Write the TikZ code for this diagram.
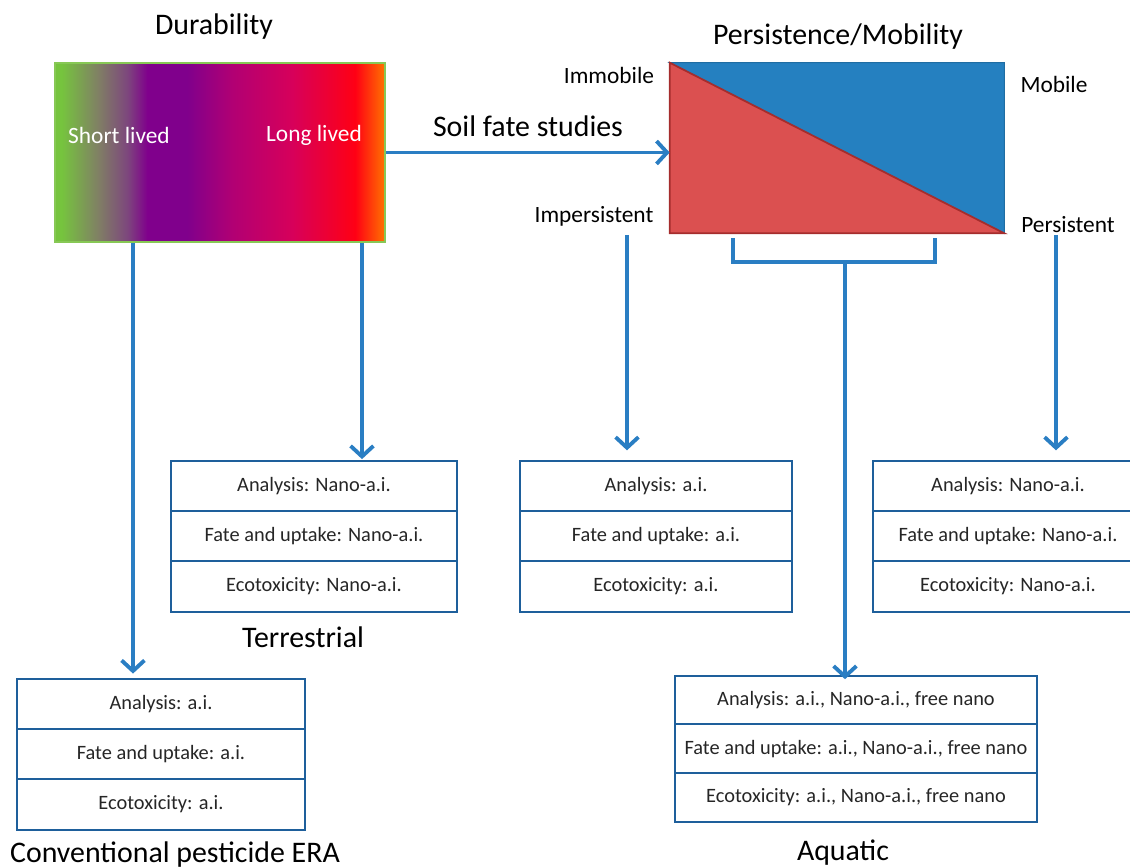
\documentclass[tikz,border=0pt]{standalone}
\usepackage{fontspec}
\setmainfont{Carlito}
\usetikzlibrary{positioning, arrows.meta}
\definecolor{flecheBleu}{RGB}{42,126,195}
\definecolor{cadreBleu}{RGB}{30,95,155}
\definecolor{triBleu}{RGB}{37,128,192}
\definecolor{triRouge}{RGB}{219,80,80}
\definecolor{bordRouge}{RGB}{165,45,45}
\definecolor{bordVert}{RGB}{135,200,85}
% Couleurs du degrade
\definecolor{gA}{RGB}{118,196,62}
\definecolor{gB}{RGB}{128,128,100}
\definecolor{gC}{RGB}{125,70,125}
\definecolor{gD}{RGB}{128,0,140}
\definecolor{gE}{RGB}{178,0,115}
\definecolor{gF}{RGB}{215,0,90}
\definecolor{gH}{RGB}{255,0,20}
\definecolor{gI}{RGB}{255,115,0}
\pgfdeclarehorizontalshading{duree}{100bp}{color(0bp)=(gA); color(26bp)=(gA); color(31.5bp)=(gB); color(36bp)=(gC); color(39bp)=(gD); color(45bp)=(gD); color(52bp)=(gE); color(61bp)=(gF); color(70.5bp)=(gH); color(75bp)=(gI); color(100bp)=(gI)}

\begin{document}
\begin{tikzpicture}[x=0.02cm, y=-0.02cm,
    grand/.style={font=\fontsize{17}{20}\selectfont},
    moyen/.style={font=\fontsize{13.3}{16}\selectfont},
    cellule/.style={draw=cadreBleu, line width=1.2pt, fill=white, outer sep=0pt, inner sep=0pt,
        minimum height=1.006cm, font=\fontsize{11.6}{14}\selectfont, text=black!85},
    fleche/.style={draw=flecheBleu, line width=2.2pt, -{Straight Barb[length=6pt,width=13pt]}},
    trait/.style={draw=flecheBleu, line width=2.2pt}]
    \useasboundingbox (0,0) rectangle (1130,868);

    % Duree de vie
    \node[grand] (tDur) at (214,27) {Durability};
    \node[shade, shading=duree, draw=bordVert, line width=1pt, inner sep=0pt,
        minimum width=6.6cm, minimum height=3.58cm] (dur) at (220,152.5) {};
    \node[moyen, text=white] (court) at (119,135) {Short lived};
    \node[moyen, text=white] (long) at (314,135) {Long lived};

    % Persistance / mobilite
    \node[grand] (tPM) at (838,37) {Persistence/Mobility};
    \node[inner sep=0pt, minimum width=6.68cm, minimum height=3.4cm] (pm) at (837,148) {};
    \filldraw[fill=triBleu, draw=triBleu!85!black, line width=0.6pt]
        (pm.north west) -- (pm.north east) -- (pm.south east) -- cycle;
    \filldraw[fill=triRouge, draw=bordRouge, line width=1pt]
        (pm.north west) -- (pm.south west) -- (pm.south east) -- cycle;
    \node[moyen] (immo) at (609,75) {Immobile};
    \node[moyen] (mobi) at (1054,84) {Mobile};
    \node[moyen] (imper) at (594,216) {Impersistent};
    \node[moyen] (pers) at (1068,225) {Persistent};

    % Etudes du sol
    \node[grand] (sol) at (528,126) {Soil fate studies};
    \draw[fleche] (dur.east) -- (dur.east -| pm.west);

    % Tableaux
    \node[cellule, minimum width=5.72cm] (terA) at (314,486) {Analysis: Nano-a.i.};
    \node[cellule, minimum width=5.72cm, below=0pt of terA] (terF) {Fate and uptake: Nano-a.i.};
    \node[cellule, minimum width=5.72cm, below=0pt of terF] (terE) {Ecotoxicity: Nano-a.i.};
    \node[grand] (tTer) at (303,637) {Terrestrial};

    \node[cellule, minimum width=5.44cm] (impA) at (656,486) {Analysis: a.i.};
    \node[cellule, minimum width=5.44cm, below=0pt of impA] (impF) {Fate and uptake: a.i.};
    \node[cellule, minimum width=5.44cm, below=0pt of impF] (impE) {Ecotoxicity: a.i.};

    \node[cellule, minimum width=5.4cm] (perA) at (1008,486) {Analysis: Nano-a.i.};
    \node[cellule, minimum width=5.4cm, below=0pt of perA] (perF) {Fate and uptake: Nano-a.i.};
    \node[cellule, minimum width=5.4cm, below=0pt of perF] (perE) {Ecotoxicity: Nano-a.i.};

    \node[cellule, minimum width=5.76cm] (conA) at (161,704) {Analysis: a.i.};
    \node[cellule, minimum width=5.76cm, below=0pt of conA] (conF) {Fate and uptake: a.i.};
    \node[cellule, minimum width=5.76cm, below=0pt of conF] (conE) {Ecotoxicity: a.i.};
    \node[grand] (tCon) at (175,855) {Conventional pesticide ERA};

    \node[cellule, minimum width=7.24cm, minimum height=0.973cm] (aquA) at (856,700) {Analysis: a.i., Nano-a.i., free nano};
    \node[cellule, minimum width=7.24cm, minimum height=0.973cm, below=0pt of aquA] (aquF) {Fate and uptake: a.i., Nano-a.i., free nano};
    \node[cellule, minimum width=7.24cm, minimum height=0.973cm, below=0pt of aquF] (aquE) {Ecotoxicity: a.i., Nano-a.i., free nano};
    \node[grand] (tAqu) at (843,853) {Aquatic};

    % Points de depart des fleches
    \coordinate (x1) at (133,0);
    \coordinate (x2) at (362,0);
    \coordinate (d3) at (627,235);
    \coordinate (d4) at (1056,235);
    \coordinate (brL) at (733,262);
    \coordinate (brR) at (935,262);
    \coordinate (brM) at (845,262);

    % Fleches
    \draw[fleche, shorten >=3pt] (x1 |- dur.south) -- (x1 |- conA.north);
    \draw[fleche, shorten >=1pt] (x2 |- dur.south) -- (x2 |- terA.north);
    \draw[fleche, shorten >=6pt] (d3) -- (d3 |- impA.north);
    \draw[fleche, shorten >=6pt] (d4) -- (d4 |- perA.north);
    \draw[trait] (brL |- pm.south) ++(0,5) -- (brL) -- (brR) -- ++(0,-24);
    \draw[fleche, shorten >=-2pt] (brM) -- (brM |- aquA.north);
\end{tikzpicture}
\end{document}
